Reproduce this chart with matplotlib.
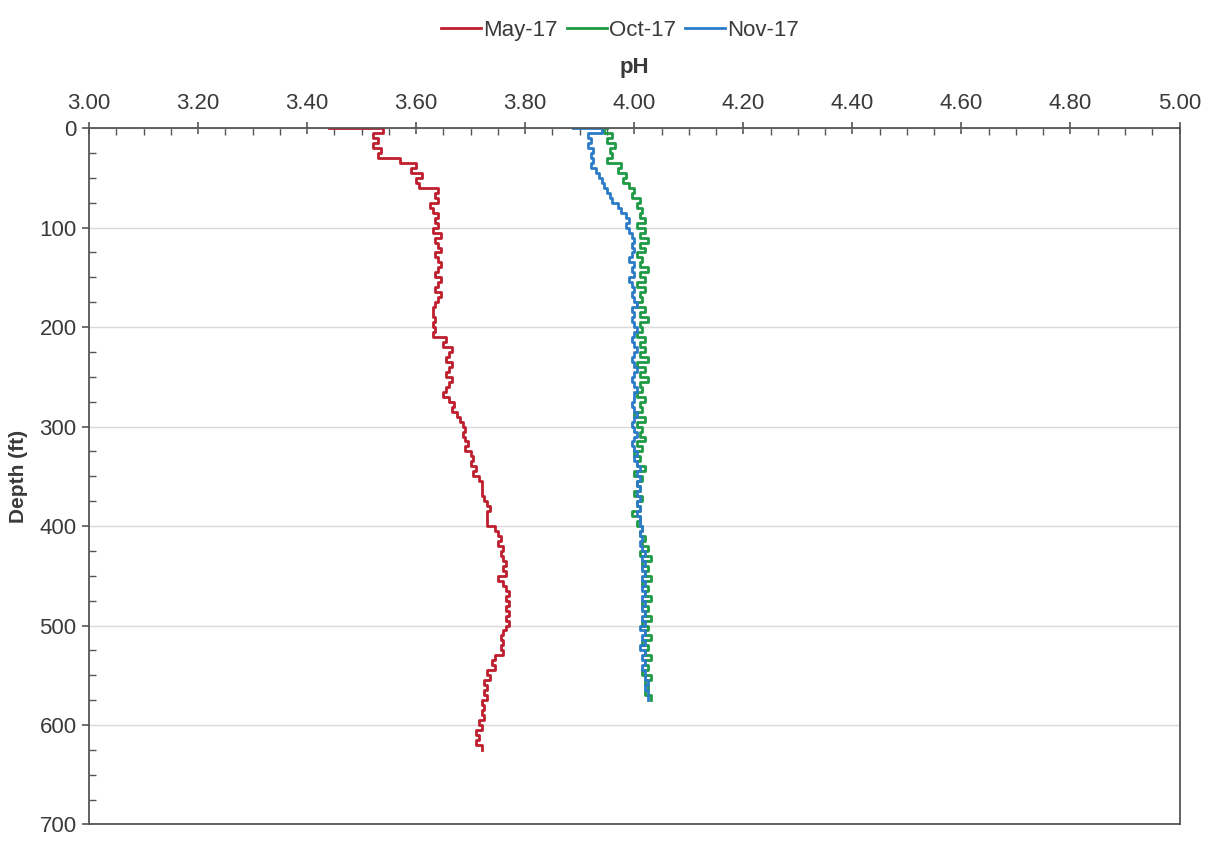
# perfil de pH vs profundidad (3 campañas)
import numpy as np
import matplotlib.pyplot as plt
from matplotlib.ticker import MultipleLocator, FormatStrFormatter

plt.rcParams['font.family'] = ['Liberation Sans', 'DejaVu Sans']

# ====== Datos ======
# profundidad cada 5 ft
depth_may = np.arange(0, 630, 5)
ph_may = [3.44, 3.54, 3.52, 3.53, 3.52, 3.535, 3.53, 3.57, 3.60, 3.59,
          3.61, 3.60, 3.605, 3.64, 3.635, 3.64, 3.625, 3.63, 3.64, 3.635,
          3.64, 3.63, 3.645, 3.635, 3.64, 3.645, 3.635, 3.64, 3.645, 3.64,
          3.635, 3.645, 3.64, 3.635, 3.645, 3.64, 3.635, 3.63, 3.63, 3.635,
          3.63, 3.635, 3.63, 3.655, 3.65, 3.665, 3.66, 3.655, 3.665, 3.66,
          3.655, 3.665, 3.66, 3.655, 3.65, 3.66, 3.67, 3.665, 3.675, 3.68,
          3.685, 3.69, 3.685, 3.69, 3.695, 3.69, 3.70, 3.705, 3.70, 3.71,
          3.705, 3.715, 3.72, 3.72, 3.72, 3.725, 3.73, 3.735, 3.73, 3.73,
          3.73, 3.745, 3.75, 3.755, 3.75, 3.76, 3.755, 3.76, 3.765, 3.76,
          3.765, 3.75, 3.76, 3.765, 3.77, 3.765, 3.77, 3.765, 3.77, 3.765,
          3.77, 3.765, 3.76, 3.755, 3.76, 3.755, 3.76, 3.745, 3.74, 3.745,
          3.73, 3.735, 3.725, 3.73, 3.725, 3.73, 3.72, 3.725, 3.72, 3.725,
          3.715, 3.72, 3.71, 3.715, 3.71, 3.72]

depth_oct = np.arange(0, 580, 5)
ph_oct = [3.95, 3.945, 3.96, 3.95, 3.965, 3.955, 3.96, 3.95, 3.975, 3.97,
          3.985, 3.98, 3.99, 4.00, 3.995, 4.01, 4.005, 4.015, 4.01, 4.02,
          4.005, 4.02, 4.01, 4.025, 4.01, 4.02, 4.005, 4.015, 4.01, 4.025,
          4.01, 4.02, 4.005, 4.02, 4.01, 4.015, 4.005, 4.02, 4.01, 4.025,
          4.01, 4.015, 4.005, 4.02, 4.01, 4.02, 4.01, 4.025, 4.005, 4.02,
          4.01, 4.025, 4.01, 4.015, 4.005, 4.02, 4.01, 4.015, 4.00, 4.02,
          4.005, 4.015, 4.01, 4.02, 4.005, 4.015, 4.00, 4.01, 4.005, 4.02,
          4.00, 4.015, 4.005, 4.01, 4.00, 4.015, 4.005, 4.01, 3.995, 4.01,
          4.005, 4.015, 4.01, 4.02, 4.015, 4.025, 4.01, 4.03, 4.015, 4.025,
          4.02, 4.03, 4.015, 4.025, 4.02, 4.03, 4.015, 4.025, 4.02, 4.03,
          4.015, 4.025, 4.02, 4.03, 4.015, 4.025, 4.02, 4.03, 4.02, 4.025,
          4.015, 4.03, 4.02, 4.025, 4.02, 4.03]

depth_nov = np.arange(0, 580, 5)
ph_nov = [3.887, 3.94, 3.915, 3.92, 3.915, 3.925, 3.92, 3.925, 3.92, 3.93,
          3.935, 3.94, 3.945, 3.95, 3.955, 3.96, 3.97, 3.975, 3.985, 3.99,
          3.985, 3.99, 3.995, 4.00, 3.995, 4.00, 3.995, 3.99, 4.00, 3.995,
          4.00, 3.99, 3.995, 4.00, 3.995, 4.00, 4.005, 3.995, 4.00, 3.995,
          4.00, 4.005, 4.00, 3.995, 4.00, 4.005, 4.00, 3.995, 4.00, 4.005,
          4.00, 3.995, 4.00, 4.005, 4.00, 4.00, 3.995, 4.00, 4.005, 4.00,
          3.995, 4.00, 4.005, 4.00, 3.995, 4.00, 4.005, 4.00, 4.005, 4.01,
          4.005, 4.01, 4.005, 4.01, 4.005, 4.01, 4.005, 4.01, 4.005, 4.01,
          4.01, 4.015, 4.01, 4.015, 4.01, 4.015, 4.02, 4.015, 4.02, 4.015,
          4.02, 4.015, 4.02, 4.015, 4.02, 4.015, 4.02, 4.015, 4.02, 4.015,
          4.02, 4.01, 4.02, 4.015, 4.02, 4.01, 4.02, 4.015, 4.02, 4.015,
          4.02, 4.02, 4.025, 4.02, 4.025, 4.025]

series = [
    ("May-17", ph_may, depth_may, "#BE1E2D"),
    ("Oct-17", ph_oct, depth_oct, "#1F9A45"),
    ("Nov-17", ph_nov, depth_nov, "#2B7BC8"),
]

# ====== Figura ======
fig = plt.figure(figsize=(12.16, 8.43), dpi=100)
ax = fig.add_axes([0.0732, 0.022, 0.8968, 0.826])

for lab, ph, dep, col in series:
    ax.plot(ph, dep, drawstyle="steps-post", color=col, lw=2.0, label=lab)

ax.set_xlim(3.0, 5.0)
ax.set_ylim(700, 0)
ax.xaxis.tick_top()
ax.xaxis.set_label_position("top")
ax.xaxis.set_major_locator(MultipleLocator(0.2))
ax.xaxis.set_minor_locator(MultipleLocator(0.05))
ax.xaxis.set_major_formatter(FormatStrFormatter("%.2f"))
ax.yaxis.set_major_locator(MultipleLocator(100))
ax.yaxis.set_minor_locator(MultipleLocator(25))

txt = "#3a3a3a"
ax.tick_params(axis="x", which="major", direction="inout", length=9, width=1.2,
               colors="#555555", labelcolor=txt, labelsize=16, pad=6)
ax.tick_params(axis="x", which="minor", direction="in", length=5, width=1.0, colors="#555555")
ax.tick_params(axis="y", which="major", direction="out", length=5, width=1.2,
               colors="#555555", labelcolor=txt, labelsize=16, pad=4)
ax.tick_params(axis="y", which="minor", direction="in", length=5, width=1.0, colors="#555555")

for s in ax.spines.values():
    s.set_color("#555555")
    s.set_linewidth(1.3)

ax.grid(True, axis="y", which="major", color="#dadada", lw=1.0)
ax.set_axisbelow(True)

ax.set_xlabel("pH", fontsize=16, fontweight="bold", color=txt, labelpad=14)
ax.set_ylabel("Depth (ft)", fontsize=15, fontweight="bold", color=txt, labelpad=8)

fig.legend(loc="upper center", bbox_to_anchor=(0.51, 1.0), ncol=3, frameon=False,
           fontsize=16, handlelength=1.8, handletextpad=0.1, columnspacing=0.4,
           labelcolor=txt)

fig.savefig("out.png", dpi=100)
